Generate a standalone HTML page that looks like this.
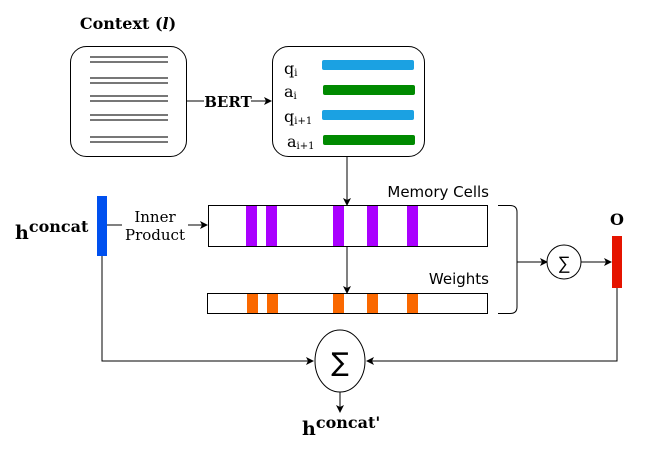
<!DOCTYPE html>
<html><head><style>body{margin:0;background:#fff}</style></head><body>
<svg width="652" height="452" xmlns="http://www.w3.org/2000/svg" font-family="'DejaVu Serif','Liberation Serif',serif">
<defs><marker id="a" markerWidth="8" markerHeight="8" refX="7" refY="4" orient="auto" markerUnits="userSpaceOnUse"><path d="M0,0 L8,4 L0,8 L2,4z" fill="#000"/></marker></defs>
<text x="128" y="29" text-anchor="middle" font-weight="bold" font-size="16">Context (<tspan font-style="italic">l</tspan>)</text>
<rect x="70.5" y="46.5" width="116" height="110" rx="16" fill="#fff" stroke="#000"/>
<g stroke="#777" stroke-width="2">
<path d="M90 57H168M90 62H168M90 78H168M90 83H168M90 96H168M90 101H168M90 115H168M90 120H168M90 137H168M90 142H168"/></g>
<line x1="186" y1="101" x2="271" y2="101" stroke="#000" marker-end="url(#a)"/>
<rect x="204" y="92" width="47" height="18" fill="#fff"/>
<text x="228" y="107" text-anchor="middle" font-weight="bold" font-size="15">BERT</text>
<rect x="272.5" y="46.5" width="152" height="110" rx="16" fill="#fff" stroke="#000"/>
<g font-size="16"><text x="284" y="74">q<tspan font-size="10" dy="2">i</tspan></text>
<text x="284" y="97">a<tspan font-size="10" dy="2">i</tspan></text>
<text x="284" y="122">q<tspan font-size="10" dy="2">i+1</tspan></text>
<text x="287" y="147">a<tspan font-size="10" dy="2">i+1</tspan></text></g>
<rect x="322" y="60" width="92" height="10" rx="2" fill="#1ba1e2"/>
<rect x="323" y="85" width="92" height="10" rx="2" fill="#008a00"/>
<rect x="322" y="110" width="92" height="10" rx="2" fill="#1ba1e2"/>
<rect x="323" y="135" width="92" height="10" rx="2" fill="#008a00"/>
<line x1="347" y1="157" x2="347" y2="205" stroke="#000" marker-end="url(#a)"/>
<text x="489" y="197" text-anchor="end" font-family="'DejaVu Sans',sans-serif" font-size="15">Memory Cells</text>
<rect x="208.5" y="205.5" width="279" height="41" fill="#fff" stroke="#000"/>
<g fill="#aa00ff"><rect x="246" y="206" width="11" height="40"/><rect x="266" y="206" width="11" height="40"/><rect x="333" y="206" width="11" height="40"/><rect x="367" y="206" width="11" height="40"/><rect x="407" y="206" width="11" height="40"/></g>
<line x1="347" y1="246" x2="347" y2="293" stroke="#000" marker-end="url(#a)"/>
<text x="489" y="284" text-anchor="end" font-family="'DejaVu Sans',sans-serif" font-size="15">Weights</text>
<rect x="207.5" y="293.5" width="280" height="20" fill="#fff" stroke="#000"/>
<g fill="#fa6800"><rect x="247" y="294" width="11" height="19"/><rect x="267" y="294" width="11" height="19"/><rect x="333" y="294" width="11" height="19"/><rect x="367" y="294" width="11" height="19"/><rect x="407" y="294" width="11" height="19"/></g>
<path d="M498 205.5H510Q517 205.5 517 212V307Q517 313.5 510 313.5H498" fill="none" stroke="#000"/>
<line x1="517" y1="262" x2="547" y2="262" stroke="#000" marker-end="url(#a)"/>
<circle cx="564" cy="262" r="17" fill="#fff" stroke="#000"/>
<text x="564" y="269" text-anchor="middle" font-family="'DejaVu Sans',sans-serif" font-size="18" font-weight="lighter">∑</text>
<line x1="581" y1="262" x2="611" y2="262" stroke="#000" marker-end="url(#a)"/>
<text x="617" y="225" text-anchor="middle" font-weight="bold" font-size="16">O</text>
<rect x="612" y="236" width="10" height="52" fill="#e51400"/>
<text x="15" y="239" font-weight="bold" font-size="19">h<tspan dy="-7" font-size="16">concat</tspan></text>
<rect x="97" y="196" width="10" height="60" fill="#0050ef"/>
<line x1="107" y1="225" x2="207" y2="225" stroke="#000" marker-end="url(#a)"/>
<rect x="122" y="206" width="66" height="38" fill="#fff"/>
<text x="155" y="222" text-anchor="middle" font-size="15">Inner</text>
<text x="155" y="240" text-anchor="middle" font-size="15">Product</text>
<path d="M102 256V361H313" fill="none" stroke="#000" marker-end="url(#a)"/>
<path d="M617 288V361H367" fill="none" stroke="#000" marker-end="url(#a)"/>
<ellipse cx="340" cy="361" rx="25" ry="31" fill="#fff" stroke="#000"/>
<text x="340" y="371" text-anchor="middle" font-family="'DejaVu Sans',sans-serif" font-size="26">∑</text>
<line x1="340" y1="392" x2="340" y2="412" stroke="#000" marker-end="url(#a)"/>
<text x="302" y="435" font-weight="bold" font-size="19">h<tspan dy="-7" font-size="16">concat'</tspan></text>
</svg>
</body></html>
